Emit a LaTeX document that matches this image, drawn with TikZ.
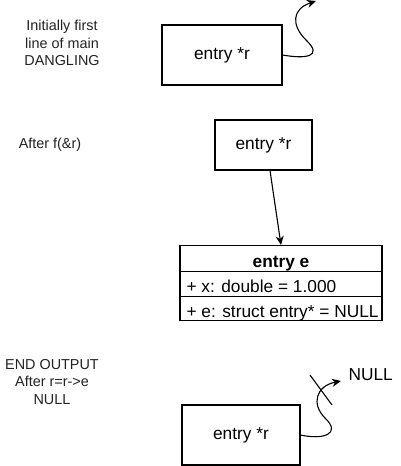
\documentclass[tikz,border=0pt]{standalone}
\usepackage{fontspec}
\setmainfont{Liberation Sans}
\usepackage{xcolor}
\usetikzlibrary{arrows.meta, positioning}
\definecolor{noteText}{RGB}{34,34,34}

\begin{document}
\begin{tikzpicture}[x=1pt, y=-1pt, line width=1.1pt,
  note/.style={align=center, text=noteText, font=\fontsize{14.4}{17.3}\selectfont},
  ptrbox/.style={draw, font=\fontsize{17.3}{20}\selectfont},
  field/.style={anchor=base west, inner sep=0pt, font=\fontsize{17.3}{20}\selectfont},
  wire/.style={-{Stealth[length=9pt, width=8pt]}}]
\useasboundingbox (0,0) rectangle (401,466);

% Notes
\node[note] (initNote) at (62,43) {Initially first\\line of main\\DANGLING};
\node[note] (afterNote) at (50,145) {After f(\&r)};
\node[note] (endNote) at (52,382) {END OUTPUT\\After r=r->e\\NULL};

% Pointers
\node[ptrbox, minimum width=120, minimum height=60] (firstPtr) at (222,55) {entry *r};
\node[ptrbox, minimum width=97, minimum height=50] (afterPtr) at (263.5,145) {entry *r};
\node[ptrbox, minimum width=118, minimum height=60] (endPtr) at (241,435) {entry *r};

% Struct entry e
\node[draw, minimum width=202, minimum height=75, anchor=north] (entryBox) at (281,245) {};
\draw (180,271.5) -- (382,271.5);
\draw (180,296.5) -- (382,296.5);
\node[anchor=base, inner sep=0pt, font=\fontsize{17.3}{20}\selectfont\bfseries] (entryHead) at (281,267) {entry e};
\node[field] (entryX) at (186,292) {+ x: double = 1.000};
\node[field] (entryE) at (186,317) {+ e: struct entry* = NULL};

% Ends of the wavy pointers
\coordinate (firstTip) at (316,1);
\coordinate (endTip) at (341,381);
\node[anchor=west, inner sep=0pt, font=\fontsize{17.3}{20}\selectfont] (nullNote) at (348,375) {NULL};

% Connectors
\draw[wire] (firstPtr.east) .. controls (305,59) and (324,57) .. (306,40)
  .. controls (291,25) and (292,9) .. (firstTip);
\draw[wire] ([xshift=6.5pt]afterPtr.south) -- (entryBox.north);
\draw[wire] (endPtr.east) .. controls (323,440) and (342,434) .. (325,418)
  .. controls (311,404) and (316,386) .. (endTip);
\draw (310,375) -- (332,405);
\end{tikzpicture}
\end{document}
